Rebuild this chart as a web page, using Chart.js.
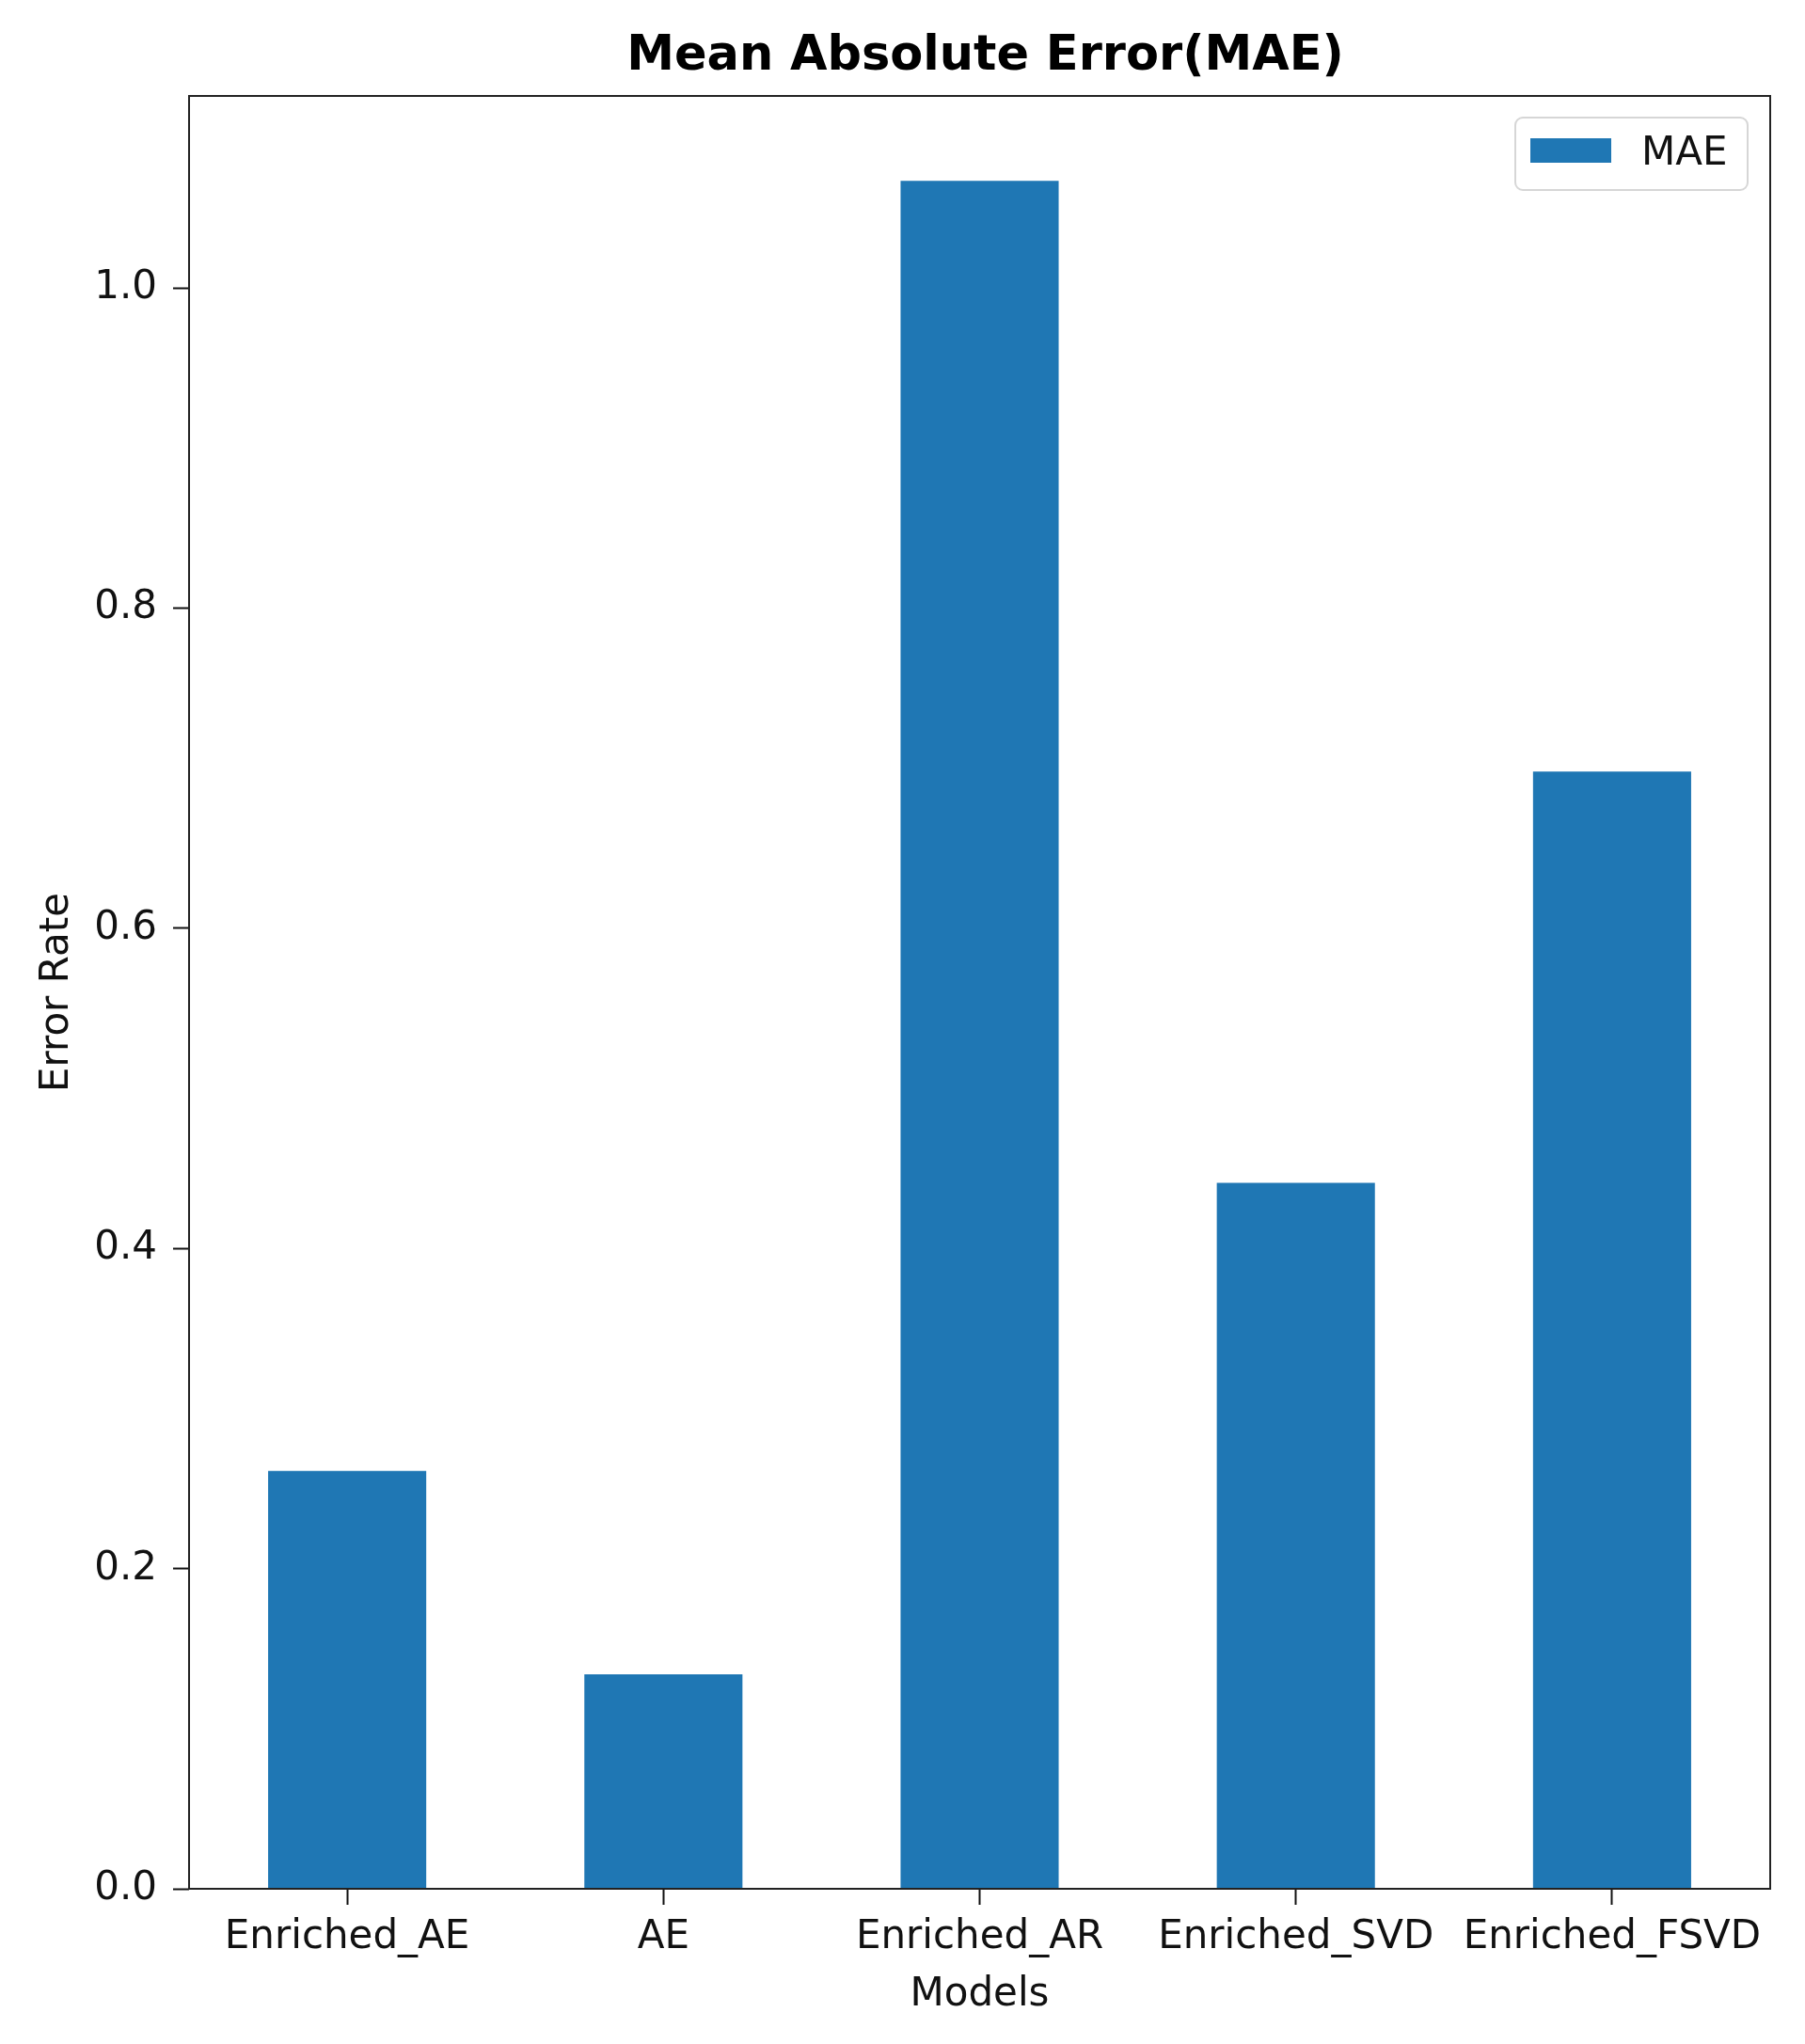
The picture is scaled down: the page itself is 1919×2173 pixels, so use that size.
<!DOCTYPE html>
<html>
<head>
<meta charset="utf-8">
<title>Mean Absolute Error(MAE)</title>
<script src="https://cdn.jsdelivr.net/npm/chart.js@4.4.1/dist/chart.umd.min.js"></script>
<style>
  html, body { margin: 0; padding: 0; background: #fff; }
  #wrap { width: 1919px; height: 2173px; position: relative; }
</style>
</head>
<body>
<div id="wrap"><canvas id="maeChart"></canvas></div>
<script>
// =====================
// Data
// =====================

const models = ['Enriched_AE', 'AE', 'Enriched_AR', 'Enriched_SVD', 'Enriched_FSVD'];
const maeValues = [0.261, 0.134, 1.067, 0.441, 0.698];
const yTickValues = [0.0, 0.2, 0.4, 0.6, 0.8, 1.0];
const yMax = 1.12;
const chartTitle = 'Mean Absolute Error(MAE)';
const seriesLabel = 'MAE';

const barColor = '#1f77b4';
const inkColor = '#111111';

Chart.defaults.font.family = '"DejaVu Sans", sans-serif';
Chart.defaults.color = inkColor;

// =====================
// Small plugins
// =====================

// box round the axes, drawn above the bars like matplotlib spines
const framePlugin = {
  id: 'frame',
  afterDatasetsDraw(chart) {
    const { ctx, chartArea: a } = chart;
    ctx.save();
    ctx.strokeStyle = '#222';
    ctx.lineWidth = 2;
    ctx.strokeRect(a.left, a.top, a.right - a.left, a.bottom - a.top);
    ctx.restore();
  }
};

// title centred over the axes, not the whole canvas
const axesTitlePlugin = {
  id: 'axesTitle',
  afterDraw(chart) {
    const { ctx, chartArea: a } = chart;
    ctx.save();
    ctx.font = 'bold 51px "DejaVu Sans", sans-serif';
    ctx.fillStyle = '#000';
    ctx.textAlign = 'center';
    ctx.textBaseline = 'middle';
    ctx.fillText(chartTitle, (a.left + a.right) / 2 + 6, 61);
    ctx.restore();
  }
};

// legend box in the upper right corner of the axes
const innerLegendPlugin = {
  id: 'innerLegend',
  afterDraw(chart) {
    const { ctx, chartArea: a } = chart;
    const ds = chart.data.datasets[0];
    const boxW = 247, boxH = 77;
    const x = a.right - 24 - boxW;
    const y = a.top + 23;
    ctx.save();
    ctx.fillStyle = 'rgba(255,255,255,0.8)';
    ctx.strokeStyle = '#d6d6d6';
    ctx.lineWidth = 2;
    ctx.beginPath();
    ctx.roundRect(x, y, boxW, boxH, 8);
    ctx.fill();
    ctx.stroke();
    ctx.fillStyle = ds.backgroundColor;
    ctx.fillRect(x + 16, y + 22, 86, 26);
    ctx.fillStyle = inkColor;
    ctx.font = '42px "DejaVu Sans", sans-serif';
    ctx.textBaseline = 'middle';
    ctx.fillText(ds.label, x + 134, y + 39);
    ctx.restore();
  }
};

// =====================
// Chart
// =====================

const ctx = document.getElementById('maeChart');

new Chart(ctx, {
  type: 'bar',
  data: {
    labels: models,
    datasets: [{
      label: seriesLabel,
      data: maeValues,
      backgroundColor: barColor,
      borderWidth: 0,
      categoryPercentage: 1.0,
      barPercentage: 0.5
    }]
  },
  options: {
    responsive: true,
    maintainAspectRatio: false,
    animation: false,
    layout: {
      padding: { top: 102, right: 37, left: 0, bottom: 0 }
    },
    plugins: {
      legend: { display: false },
      title: { display: false },
      tooltip: { enabled: false }
    },
    scales: {
      x: {
        offset: true,
        grid: {
          offset: false,
          drawOnChartArea: false,
          drawTicks: true,
          tickLength: 17,
          tickWidth: 2,
          tickColor: inkColor
        },
        border: { display: false },
        ticks: {
          font: { size: 42 },
          color: inkColor,
          padding: 10,
          maxRotation: 0,
          autoSkip: false
        },
        title: {
          display: true,
          text: 'Models',
          font: { size: 42 },
          color: inkColor,
          padding: { top: 0, bottom: 27 }
        },
        afterFit(scale) { scale.height = 165; }
      },
      y: {
        min: 0,
        max: yMax,
        grid: {
          drawOnChartArea: false,
          drawTicks: true,
          tickLength: 17,
          tickWidth: 2,
          tickColor: inkColor
        },
        border: { display: false },
        ticks: {
          font: { size: 42 },
          color: inkColor,
          padding: 17,
          includeBounds: false,
          callback: v => Number(v).toFixed(1)
        },
        afterBuildTicks(axis) {
          axis.ticks = yTickValues.map(v => ({ value: v }));
        },
        title: {
          display: true,
          text: 'Error Rate',
          font: { size: 42 },
          color: inkColor,
          padding: { top: 36, bottom: 0 }
        },
        afterFit(scale) { scale.width = 201; }
      }
    }
  },
  plugins: [framePlugin, axesTitlePlugin, innerLegendPlugin]
});
</script>
</body>
</html>
